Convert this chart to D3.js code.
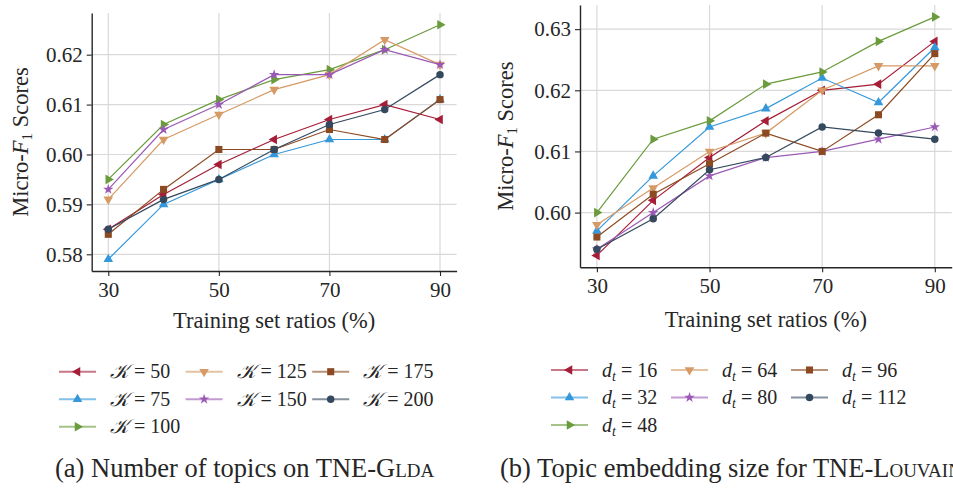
<!DOCTYPE html>
<html>
<head>
<meta charset="utf-8">
<script src="https://cdn.jsdelivr.net/npm/d3@7"></script>
<style>
  body { margin: 0; background: #fff; }
  svg text { font-family: "Liberation Serif", "DejaVu Serif", serif; fill: #262626; }
</style>
</head>
<body>
<svg id="chart" width="953" height="500"></svg>
<script>
// training ratios on the x axis
const ratios = [30, 40, 50, 60, 70, 80, 90];

// (a) number of topics K on TNE-Glda
const topicLabels = ["50", "75", "100", "125", "150", "175", "200"];
const topicScores = [
  [0.585, 0.592, 0.598, 0.603, 0.607, 0.610, 0.607],
  [0.579, 0.590, 0.595, 0.600, 0.603, 0.603, 0.611],
  [0.595, 0.606, 0.611, 0.615, 0.617, 0.621, 0.626],
  [0.591, 0.603, 0.608, 0.613, 0.616, 0.623, 0.618],
  [0.593, 0.605, 0.610, 0.616, 0.616, 0.621, 0.618],
  [0.584, 0.593, 0.601, 0.601, 0.605, 0.603, 0.611],
  [0.585, 0.591, 0.595, 0.601, 0.606, 0.609, 0.616]
];

// (b) topic embedding size d_t for TNE-Louvain
const dimLabels = ["16", "32", "48", "64", "80", "96", "112"];
const dimScores = [
  [0.593, 0.602, 0.609, 0.615, 0.620, 0.621, 0.628],
  [0.597, 0.606, 0.614, 0.617, 0.622, 0.618, 0.627],
  [0.600, 0.612, 0.615, 0.621, 0.623, 0.628, 0.632],
  [0.598, 0.604, 0.610, 0.613, 0.620, 0.624, 0.624],
  [0.594, 0.600, 0.606, 0.609, 0.610, 0.612, 0.614],
  [0.596, 0.603, 0.608, 0.613, 0.610, 0.616, 0.626],
  [0.594, 0.599, 0.607, 0.609, 0.614, 0.613, 0.612]
];

const xTicks = [30, 50, 70, 90];
const topicTicks = [0.58, 0.59, 0.60, 0.61, 0.62];
const dimTicks = [0.60, 0.61, 0.62, 0.63];

const colors = ["#a51d36", "#3498db", "#6a9b3c", "#d59a65", "#9b59b6", "#8c4a22", "#34495e"];
const markers = ["left", "up", "right", "down", "star", "square", "circle"];

const svg = d3.select("#chart");
const FONT = 21;

// legend slots: 3 columns filled column by column (3, 2, 2 entries)
const legendSlots = [[0, 0], [0, 1], [0, 2], [1, 0], [1, 1], [2, 0], [2, 1]];

function markerPath(kind) {
  if (kind === "circle") return { d: d3.symbol().type(d3.symbolCircle).size(44)(), rot: 0 };
  if (kind === "square") return { d: d3.symbol().type(d3.symbolSquare).size(50)(), rot: 0 };
  if (kind === "star") return { d: d3.symbol().type(d3.symbolStar).size(34)(), rot: 0 };
  const rot = { up: 0, right: 90, down: 180, left: -90 }[kind];
  return { d: d3.symbol().type(d3.symbolTriangle).size(40)(), rot: rot };
}

function drawMarker(g, kind, cx, cy, color) {
  const m = markerPath(kind);
  g.append("path")
    .attr("d", m.d)
    .attr("transform", `translate(${cx},${cy}) rotate(${m.rot})`)
    .attr("fill", color);
}

function drawPanel(p) {
  const g = svg.append("g");
  const x = d3.scaleLinear().domain([27, 93]).range([p.left, p.right]);
  const all = p.scores.flat();
  const lo = d3.min(all), hi = d3.max(all), pad = (hi - lo) * 0.05;
  const y = d3.scaleLinear().domain([lo - pad, hi + pad]).range([p.bottom, p.top]);

  // grid
  g.selectAll(".gx").data(xTicks).join("line")
    .attr("x1", d => x(d)).attr("x2", d => x(d))
    .attr("y1", p.top).attr("y2", p.bottom)
    .attr("stroke", "#d9d9d9").attr("stroke-width", 1.2);
  g.selectAll(".gy").data(p.yTicks).join("line")
    .attr("x1", p.left).attr("x2", p.right)
    .attr("y1", d => y(d)).attr("y2", d => y(d))
    .attr("stroke", "#d9d9d9").attr("stroke-width", 1.2);

  // axes (left + bottom spines only)
  const ax = g.append("g").attr("transform", `translate(0,${p.bottom})`)
    .call(d3.axisBottom(x).tickValues(xTicks).tickSize(5).tickPadding(6).tickSizeOuter(0));
  const ay = g.append("g").attr("transform", `translate(${p.left},0)`)
    .call(d3.axisLeft(y).tickValues(p.yTicks).tickFormat(d3.format(".2f")).tickSize(5).tickPadding(4).tickSizeOuter(0));
  [ax, ay].forEach(a => {
    a.select(".domain").attr("stroke", "#262626").attr("stroke-width", 1.4);
    a.selectAll(".tick line").attr("stroke", "#262626").attr("stroke-width", 1.1);
    a.selectAll(".tick text").attr("font-size", FONT).attr("fill", "#262626");
  });

  // series
  const line = d3.line().x((d, i) => x(ratios[i])).y(d => y(d));
  p.scores.forEach((s, k) => {
    g.append("path").attr("d", line(s))
      .attr("fill", "none").attr("stroke", colors[k]).attr("stroke-width", 1.2);
    s.forEach((v, i) => drawMarker(g, markers[k], x(ratios[i]), y(v), colors[k]));
  });

  // axis titles
  g.append("text")
    .attr("x", (p.left + p.right) / 2).attr("y", p.xTitleY)
    .attr("text-anchor", "middle").attr("font-size", 22.5)
    .text("Training set ratios (%)");

  const yt = g.append("text")
    .attr("transform", `translate(${p.yTitleX},${(p.top + p.bottom) / 2}) rotate(-90)`)
    .attr("text-anchor", "middle").attr("font-size", 22.5);
  yt.append("tspan").text("Micro-");
  yt.append("tspan").attr("font-style", "italic").text("F");
  yt.append("tspan").attr("font-size", 15).attr("dy", 4).text("1");
  yt.append("tspan").attr("dy", -4).text(" Scores");

  // legend
  p.labels.forEach((lab, k) => {
    const [col, row] = legendSlots[k];
    const lx = p.legX + col * p.legColW, ly = p.legY + row * 27.5;
    g.append("line")
      .attr("x1", lx).attr("x2", lx + 37).attr("y1", ly).attr("y2", ly)
      .attr("stroke", colors[k]).attr("stroke-width", 2).attr("opacity", 0.6);
    drawMarker(g, markers[k], lx + 18.5, ly, colors[k]);
    const t = g.append("text").attr("x", lx + 51).attr("y", ly + 6.5).attr("font-size", 20);
    p.labelFn(t, lab);
  });

  // caption
  const c = g.append("text").attr("x", p.capX).attr("y", 477).attr("font-size", 26.5);
  c.append("tspan").text(p.caption[0]);
  c.append("tspan").style("font-variant", "small-caps").text(p.caption[1]);
}

drawPanel({
  left: 91.7, right: 456.6, top: 13, bottom: 271,
  scores: topicScores, labels: topicLabels, yTicks: topicTicks,
  xTitleY: 328, yTitleX: 28,
  legX: 59, legY: 371.7, legColW: 126.6,
  labelFn: (t, lab) => {
    t.append("tspan").attr("font-family", "DejaVu Serif").attr("font-style", "italic").text("\u{1D4A6}");
    t.append("tspan").text(" = " + lab);
  },
  capX: 55, caption: ["(a) Number of topics on TNE-G", "lda"]
});

drawPanel({
  left: 580, right: 951.7, top: 5, bottom: 267.3,
  scores: dimScores, labels: dimLabels, yTicks: dimTicks,
  xTitleY: 327, yTitleX: 513,
  legX: 551, legY: 370, legColW: 120,
  labelFn: (t, lab) => {
    t.append("tspan").attr("font-style", "italic").text("d");
    t.append("tspan").attr("font-style", "italic").attr("font-size", 14).attr("dy", 4).text("t");
    t.append("tspan").attr("dy", -4).text(" = " + lab);
  },
  capX: 500, caption: ["(b) Topic embedding size for TNE-L", "ouvain"]
});
</script>
</body>
</html>
